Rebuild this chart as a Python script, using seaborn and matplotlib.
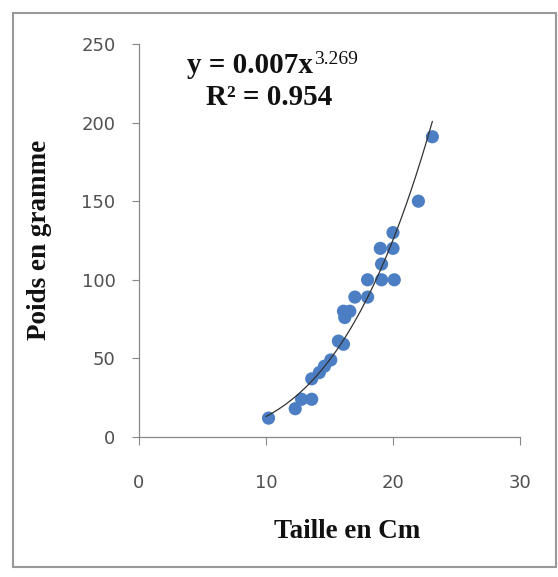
import numpy as np
import pandas as pd
import matplotlib
matplotlib.use("Agg")
import matplotlib.pyplot as plt
import seaborn as sns
from matplotlib.patches import Rectangle

# Data
taille = [10.2, 12.3, 12.8, 13.6, 13.6, 14.2, 14.6, 15.1, 15.7, 16.1, 16.2, 16.1, 16.6,
          17.0, 18.0, 18.0, 19.1, 20.1, 19.1, 19.0, 20.0, 20.0, 22.0, 23.1]
poids = [12, 18, 24, 24, 37, 41, 45, 49, 61, 59, 76, 80, 80,
         89, 89, 100, 100, 100, 110, 120, 120, 130, 150, 191]
coef_a = 0.007
coef_b = 3.269
fit_range = [10.0, 23.1]
x_ticks = [0, 10, 20, 30]
y_ticks = [0, 50, 100, 150, 200, 250]
eq_main = "y = 0.007x"
eq_exp = "3.269"
r2_text = "R² = 0.954"
x_label = "Taille en Cm"
y_label = "Poids en gramme"

sns.set_style("white")
plt.rcParams["font.family"] = ["DejaVu Sans"]

df = pd.DataFrame({"Taille": taille, "Poids": poids})
xf = np.linspace(fit_range[0], fit_range[1], 200)
fit = pd.DataFrame({"Taille": xf, "Poids": coef_a * xf ** coef_b})

fig = plt.figure(figsize=(5.58, 5.77), dpi=100)
ax = fig.add_axes([139 / 558, 1 - 437 / 577, (520 - 139) / 558, (437 - 44) / 577])

sns.lineplot(data=fit, x="Taille", y="Poids", ax=ax, color="#333333", lw=0.9, zorder=3)
sns.scatterplot(data=df, x="Taille", y="Poids", ax=ax, color="#4b7ec3", s=90,
                edgecolor="none", zorder=2)

ax.set_xlim(0, 30)
ax.set_ylim(0, 250)
ax.set_xticks(x_ticks)
ax.set_yticks(y_ticks)
ax.tick_params(axis="x", length=6, width=0.8, color="#888888", pad=21,
               labelsize=13, labelcolor="#505050", direction="out", bottom=True)
ax.tick_params(axis="y", length=5, width=0.8, color="#888888", pad=12,
               labelsize=13, labelcolor="#505050", direction="out", left=True)
for s in ["top", "right"]:
    ax.spines[s].set_visible(False)
for s in ["left", "bottom"]:
    ax.spines[s].set_color("#888888")
    ax.spines[s].set_linewidth(0.9)

serif = ["Liberation Serif", "DejaVu Serif"]
ax.set_xlabel("")
ax.set_ylabel("")
fig.text(347 / 558, 1 - 532 / 577, x_label, ha="center", va="center",
         fontsize=19.5, fontweight="bold", family=serif, color="#111111")
fig.text(40 / 558, 1 - 240 / 577, y_label, ha="center", va="center", rotation=90,
         fontsize=19.5, fontweight="bold", family=serif, color="#111111")
fig.text(313 / 558, 1 - 73 / 577, eq_main, ha="right", va="baseline",
         fontsize=21, fontweight="bold", family=serif, color="#111111")
fig.text(314 / 558, 1 - 64 / 577, eq_exp, ha="left", va="baseline",
         fontsize=14, family=serif, color="#111111")
fig.text(269 / 558, 1 - 105 / 577, r2_text, ha="center", va="baseline",
         fontsize=21, fontweight="bold", family=serif, color="#111111")

# chart-area frame
fig.patches.append(Rectangle((13 / 558, 1 - 567 / 577), (556 - 13) / 558, (567 - 13) / 577,
                             transform=fig.transFigure, fill=False,
                             edgecolor="#999999", lw=1.5))

fig.savefig("out.png", dpi=100)
